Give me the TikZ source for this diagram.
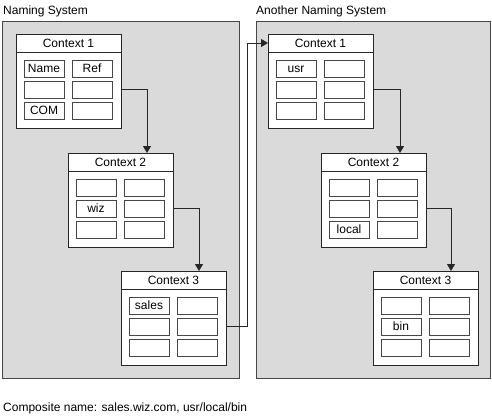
\documentclass[tikz,border=0pt]{standalone}
\usepackage{fontspec}
\setmainfont{Liberation Sans}
\usetikzlibrary{arrows.meta,calc}
\definecolor{panelgray}{RGB}{218,218,218}
\definecolor{edgegray}{RGB}{70,70,70}
\tikzset{
  panel/.style={draw=edgegray, fill=panelgray, line width=1pt, inner sep=0pt, outer sep=0pt, anchor=north west},
  ctx/.style={draw=black!85, fill=white, line width=1pt, inner sep=0pt, outer sep=0pt, minimum width=105pt, minimum height=94pt, anchor=north west},
  hdr/.style={inner sep=0pt, outer sep=0pt, minimum width=105pt, minimum height=18pt, anchor=north west, text height=8.6pt, text depth=0pt},
  ctxline/.style={draw=black!85, line width=1pt},
  cell/.style={draw=edgegray, fill=white, line width=1pt, inner sep=0pt, outer sep=0pt, minimum width=40pt, minimum height=17pt, anchor=north west, text height=8.6pt, text depth=0pt},
  conn/.style={draw=black!85, line width=1pt, -{Triangle[width=8pt,length=7pt]}},
  title/.style={anchor=base west, inner sep=0pt},
}
\newcommand\ctxbox[9]{%
  \node[ctx] (#1) at #2 {};
  \node[hdr] (#1h) at (#1.north west) {#3};
  \draw[ctxline] (#1h.south west) -- (#1h.south east);
  \node[cell] (#1a) at ($(#1.north west)+(8pt,-26pt)$) {#4};
  \node[cell] (#1b) at ($(#1.north west)+(56pt,-26pt)$) {#5};
  \node[cell] (#1c) at ($(#1.north west)+(8pt,-47pt)$) {#6};
  \node[cell] (#1d) at ($(#1.north west)+(56pt,-47pt)$) {#7};
  \node[cell] (#1e) at ($(#1.north west)+(8pt,-68pt)$) {#8};
  \node[cell] (#1f) at ($(#1.north west)+(56pt,-68pt)$) {#9};
}
\begin{document}
\begin{tikzpicture}[x=1pt,y=-1pt,font=\fontsize{12}{14}\selectfont]
\useasboundingbox (0,0) rectangle (492,418);
\node[panel, minimum width=237pt, minimum height=357pt] (P1) at (2,21) {};
\node[panel, minimum width=234pt, minimum height=357pt] (P2) at (256,21) {};
\node[title] (T1) at (3,14) {Naming System};
\node[title] (T2) at (256,14) {Another Naming System};
\node[title] (T3) at (3,411.5) {Composite name: sales.wiz.com, usr/local/bin};

\ctxbox{L1}{(16,34)}{Context 1}{Name}{Ref}{}{}{COM}{}
\ctxbox{L2}{(68,153)}{Context 2}{}{}{wiz}{}{}{}
\ctxbox{L3}{(121,271)}{Context 3}{sales}{}{}{}{}{}
\ctxbox{R1}{(268,34)}{Context 1}{usr}{}{}{}{}{}
\ctxbox{R2}{(321,153)}{Context 2}{}{}{}{}{local}{}
\ctxbox{R3}{(373,271)}{Context 3}{}{}{bin}{}{}{}

\draw[conn] (L1.east |- L1d.center) -- ++(26pt,0pt) coordinate (k1) -- (k1 |- L2.north);
\draw[conn] (L2.east |- L2d.center) -- ++(26pt,0pt) coordinate (k2) -- (k2 |- L3.north);
\draw[conn] (L3.east |- L3d.center) -- ++(21pt,0pt) coordinate (k3) -- (k3 |- R1h.west) -- (R1h.west);
\draw[conn] (R1.east |- R1d.center) -- ++(27pt,0pt) coordinate (k4) -- (k4 |- R2.north);
\draw[conn] (R2.east |- R2d.center) -- ++(25pt,0pt) coordinate (k5) -- (k5 |- R3.north);
\end{tikzpicture}
\end{document}
